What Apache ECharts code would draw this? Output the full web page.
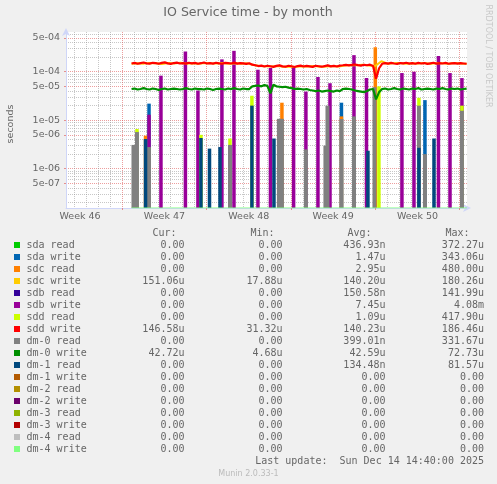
<!DOCTYPE html>
<html><head><meta charset="utf-8">
<script src="https://cdn.jsdelivr.net/npm/echarts@6/dist/echarts.min.js"></script>
<style>html,body{margin:0;padding:0;background:#f0f0f0}#c{width:497px;height:484px}</style>
</head><body><div id="c"></div>
<script>
// ---------- axis / tick data ----------
const X_MIN = 2.33, X_MAX = 35.61;        // days since Sun Nov 9 2025 00:00
const Y_MIN = 1.55e-7, Y_MAX = 6.6e-4;
const weekLabelDays = [3.5, 10.5, 17.5, 24.5, 31.5];
const weekLabels = ['Week 46', 'Week 47', 'Week 48', 'Week 49', 'Week 50'];
const weekGridDays = [7, 14, 21, 28, 35];
const dayGridDays = [3,4,5,6,8,9,10,11,12,13,15,16,17,18,19,20,22,23,24,25,26,27,29,30,31,32,33,34];
const yTickValues = [5e-4, 1e-4, 5e-5, 1e-5, 5e-6, 1e-6, 5e-7];
const yTickLabels = ['5e-04', '1e-04', '5e-05', '1e-05', '5e-06', '1e-06', '5e-07'];
const yMinorGrid = [6e-4,4e-4,3e-4,2e-4, 9e-5,8e-5,7e-5,6e-5, 4e-5,3e-5,2e-5, 9e-6,8e-6,7e-6,6e-6, 4e-6,3e-6,2e-6, 9e-7,8e-7,7e-7,6e-7, 4e-7,3e-7,2e-7];

// ---------- legend table ----------
const seriesNames = ['sda read','sda write','sdc read','sdc write','sdb read','sdb write','sdd read','sdd write','dm-0 read','dm-0 write','dm-1 read','dm-1 write','dm-2 read','dm-2 write','dm-3 read','dm-3 write','dm-4 read','dm-4 write'];
const seriesColors = ['#00cc00','#0066b3','#ff8000','#ffcc00','#330099','#990099','#ccff00','#ff0000','#808080','#008f00','#00487d','#b35a00','#b38f00','#6b006b','#8fb300','#b30000','#bebebe','#80ff80'];
const curVals = ['0.00','0.00','0.00','151.06u','0.00','0.00','0.00','146.58u','0.00','42.72u','0.00','0.00','0.00','0.00','0.00','0.00','0.00','0.00'];
const minVals = ['0.00','0.00','0.00','17.88u','0.00','0.00','0.00','31.32u','0.00','4.68u','0.00','0.00','0.00','0.00','0.00','0.00','0.00','0.00'];
const avgVals = ['436.93n','1.47u','2.95u','140.20u','150.58n','7.45u','1.09u','140.23u','399.01n','42.59u','134.48n','0.00','0.00','0.00','0.00','0.00','0.00','0.00'];
const maxVals = ['372.27u','343.06u','480.00u','180.26u','141.99u','4.08m','417.90u','186.46u','331.67u','72.73u','81.57u','0.00','0.00','0.00','0.00','0.00','0.00','0.00'];

// ---------- line series (microseconds, sampled evenly from LINE_START to LINE_END) ----------
const LINE_START = 7.77, LINE_END = 35.58;
const sddWriteUs = [148,152,146,151,155,149,147,153,150,146,152,156,149,145,151,154,148,150,147,153,149,152,146,150,155,148,151,147,153,149,146,152,150,148,154,147,151,149,145,150,
  140,136,131,134,128,133,130,126,132,135,129,127,133,130,125,131,134,128,132,129,126,133,130,127,131,135,129,132,128,134,
  136,139,135,138,141,137,134,139,136,140,132,
  72,118,
  146,150,147,152,148,145,151,149,153,147,150,146,152,148,151,145,149,153,147,150,148,152,146,149,151,147,150,148,146];
const sdcWriteUs = [146,150,147,152,149,145,151,148,153,147,150,146,152,149,148,151,147,150,146,149,
  138,132,130,128,131,127,129,126,130,128,132,127,129,131,128,
  134,137,136,139,135,131,
  165,
  146,149,151,147,150,148,152,146,149,150,147,151,148,147];
const dm0WriteUs = [44,45,43,44,46,44,43,45,44,42,44,45,43,44,45,44,43,44,46,44,43,45,44,44,43,45,44,42,44,45,44,43,45,44,46,44,43,45,44,44,
  50,51,52,50,53,51,36,54,50,49,48,49,47,46,44,45,44,43,44,42,41,40,41,39,40,41,40,39,41,40,
  44,45,44,43,41,40,39,38,40,43,44,
  27,38,
  44,45,43,44,46,44,43,45,44,43,45,44,46,43,44,45,44,43,45,44,46,44,43,45,44,45,43,44,45];
const dm4WriteSpan = [7.77, 35.6];

// ---------- spikes [day, seconds] ----------
const sdaWriteSpikes = [[9.22,2.2e-5],[25.19,2.3e-5],[32.12,2.6e-5]];
const sdcReadSpikes  = [[8.93,4.8e-6],[20.25,2.3e-5],[25.19,1.2e-5],[28.0,3.2e-4]];
const sdbWriteSpikes = [[9.22,1.3e-5],[10.21,8.3e-5],[12.24,2.6e-4],[13.28,4.1e-5],[15.27,1.8e-4],[16.27,2.7e-4],[18.26,1.1e-4],[19.30,1.2e-4],[21.22,1.3e-4],[22.24,3.9e-5],[23.24,7.8e-5],[24.24,5.8e-5],[26.23,2.2e-4],[27.27,7.4e-5],[30.21,9.4e-5],[31.21,1.0e-4],[33.24,2.1e-4],[34.20,9.4e-5],[35.19,7.4e-5]];
const sddReadSpikes  = [[8.22,6.6e-6],[13.53,5.0e-6],[15.94,4.2e-6],[17.76,3.2e-5],[28.3,5.0e-5],[31.62,2.9e-5],[35.19,2.0e-5]];
const dm0ReadSpikes  = [[7.93,3.1e-6],[8.22,5.7e-6],[9.22,2.8e-6],[15.94,3.1e-6],[20.0,1.07e-5],[20.25,1.07e-5],[22.24,2.5e-6],[23.86,3.0e-6],[24.03,2.0e-5],[25.19,1.06e-5],[26.23,1.2e-5],[27.93,4.8e-5],[31.62,2.0e-5],[32.12,2.0e-6],[35.19,1.57e-5]];
const dm1ReadSpikes  = [[8.93,4.1e-6],[13.53,4.3e-6],[14.24,2.6e-6],[15.11,2.8e-6],[17.76,2.0e-5],[19.59,4.2e-6],[27.39,2.35e-6],[31.62,2.7e-6],[32.87,4.2e-6]];

// ---------- build ----------
const FONT = '#666666';
function lineData(vals) {
  const step = (LINE_END - LINE_START) / (vals.length - 1);
  return vals.map((v, i) => [LINE_START + i * step, v * 1e-6]);
}
function spikeSeries(idx, data, w) {
  const color = seriesColors[idx];
  return {
    type: 'custom', name: seriesNames[idx], data: data, encode: {x: 0, y: 1}, silent: true, clip: true,
    renderItem: function (params, api) {
      const p = api.coord([api.value(0), api.value(1)]);
      const cs = params.coordSys;
      const bottom = cs.y + cs.height;
      return {type: 'rect', shape: {x: p[0] - w / 2, y: p[1], width: w, height: bottom - p[1]}, style: {fill: color}};
    }
  };
}
function lineSeries(idx, data, width) {
  return {type: 'line', name: seriesNames[idx], data: data, showSymbol: false, symbol: 'none', silent: true,
    lineStyle: {color: seriesColors[idx], width: width}, itemStyle: {color: seriesColors[idx]}};
}

const graphic = [];
graphic.push({type: 'text', x: 248, y: 13, style: {text: 'IO Service time - by month', fill: FONT, fontFamily: 'DejaVu Sans', fontSize: 12.6, align: 'center', verticalAlign: 'middle'}});
graphic.push({type: 'text', x: 11, y: 124, rotation: Math.PI / 2, style: {text: 'seconds', fill: FONT, fontFamily: 'DejaVu Sans', fontSize: 9.5, align: 'center', verticalAlign: 'middle'}});
graphic.push({type: 'text', x: 488, y: 56, rotation: -Math.PI / 2, style: {text: 'RRDTOOL / TOBI OETIKER', fill: '#c8c8c8', fontFamily: 'DejaVu Sans', fontSize: 8, align: 'center', verticalAlign: 'middle'}});
const MONO = 'DejaVu Sans Mono';
const headers = ['Cur:', 'Min:', 'Avg:', 'Max:'];
const headerX = [176.5, 274.5, 371.5, 469.5];
const colX = [184.5, 282.5, 385.5, 484];
headers.forEach((h, i) => graphic.push({type: 'text', x: headerX[i], y: 233.5, style: {text: h, fill: FONT, fontFamily: MONO, fontSize: 10, align: 'right', verticalAlign: 'middle'}}));
const cols = [curVals, minVals, avgVals, maxVals];
seriesNames.forEach((n, r) => {
  const y = 245 + r * 12.02;
  graphic.push({type: 'rect', shape: {x: 14, y: Math.round(y) - 3, width: 6, height: 6}, style: {fill: seriesColors[r]}});
  graphic.push({type: 'text', x: 26.5, y: y, style: {text: n, fill: FONT, fontFamily: MONO, fontSize: 10, align: 'left', verticalAlign: 'middle'}});
  cols.forEach((c, k) => graphic.push({type: 'text', x: colX[k], y: y, style: {text: c[r], fill: FONT, fontFamily: MONO, fontSize: 10, align: 'right', verticalAlign: 'middle'}}));
});
graphic.push({type: 'text', x: 484, y: 461.7, style: {text: 'Last update:  Sun Dec 14 14:40:00 2025', fill: FONT, fontFamily: MONO, fontSize: 10, align: 'right', verticalAlign: 'middle'}});
graphic.push({type: 'text', x: 248.5, y: 473.5, style: {text: 'Munin 2.0.33-1', fill: '#bbbbbb', fontFamily: 'DejaVu Sans', fontSize: 8, align: 'center', verticalAlign: 'middle'}});

const chart = echarts.init(document.getElementById('c'), null, {renderer: 'canvas'});
chart.setOption({
  animation: false,
  backgroundColor: '#f0f0f0',
  grid: {left: 66, top: 32, width: 401, height: 176, show: true, backgroundColor: '#ffffff', borderWidth: 0},
  xAxis: [{
    type: 'value', min: X_MIN, max: X_MAX, position: 'bottom',
    axisLine: {show: true, lineStyle: {color: '#cfd6f8', width: 1}, symbol: ['none', 'arrow'], symbolSize: [6, 8], symbolOffset: [0, 4]},
    axisTick: {show: true, customValues: weekGridDays, length: 2, inside: false, lineStyle: {color: 'rgba(222,79,79,0.6)'}},
    axisLabel: {customValues: weekLabelDays, color: FONT, fontFamily: 'DejaVu Sans', fontSize: 9.5, margin: 4,
      formatter: function (v) { let b = 0; weekLabelDays.forEach((d, i) => { if (Math.abs(d - v) < Math.abs(weekLabelDays[b] - v)) b = i; }); return weekLabels[b]; }},
    splitLine: {show: true, lineStyle: {color: 'rgba(222,79,79,0.55)', type: [1, 1], width: 1}}
  }, {
    type: 'value', min: X_MIN, max: X_MAX, position: 'bottom',
    axisLine: {show: false}, axisLabel: {show: false},
    axisTick: {show: false, customValues: dayGridDays},
    splitLine: {show: true, lineStyle: {color: 'rgba(143,143,143,0.5)', type: [1, 1], width: 1}}
  }],
  yAxis: [{
    type: 'log', logBase: 10, min: Y_MIN, max: Y_MAX,
    axisLine: {show: true, lineStyle: {color: '#cfd6f8', width: 1}, symbol: ['none', 'arrow'], symbolSize: [6, 8], symbolOffset: [0, 4]},
    axisTick: {show: true, customValues: yTickValues, length: 2, lineStyle: {color: 'rgba(222,79,79,0.6)'}},
    axisLabel: {customValues: yTickValues, color: FONT, fontFamily: 'DejaVu Sans', fontSize: 9.5, margin: 6,
      formatter: function (v) { let b = 0; yTickValues.forEach((t, i) => { if (Math.abs(Math.log10(t) - Math.log10(v)) < Math.abs(Math.log10(yTickValues[b]) - Math.log10(v))) b = i; }); return yTickLabels[b]; }},
    splitLine: {show: true, lineStyle: {color: 'rgba(222,79,79,0.55)', type: [1, 1], width: 1}}
  }, {
    type: 'log', logBase: 10, min: Y_MIN, max: Y_MAX, position: 'left',
    axisLine: {show: false}, axisLabel: {show: false},
    axisTick: {show: false, customValues: yMinorGrid},
    splitLine: {show: true, lineStyle: {color: 'rgba(143,143,143,0.5)', type: [1, 1], width: 1}}
  }],
  series: [
    spikeSeries(1, sdaWriteSpikes, 3.5),
    spikeSeries(2, sdcReadSpikes, 3.5),
    lineSeries(3, lineData(sdcWriteUs), 2),
    spikeSeries(5, sdbWriteSpikes, 3.5),
    spikeSeries(6, sddReadSpikes, 3.5),
    lineSeries(7, lineData(sddWriteUs), 2.2),
    spikeSeries(8, dm0ReadSpikes, 4),
    lineSeries(9, lineData(dm0WriteUs), 2.2),
    spikeSeries(10, dm1ReadSpikes, 3.5),
    lineSeries(17, dm4WriteSpan.map(d => [d, Y_MIN]), 1)
  ],
  graphic: graphic
});
</script></body></html>
